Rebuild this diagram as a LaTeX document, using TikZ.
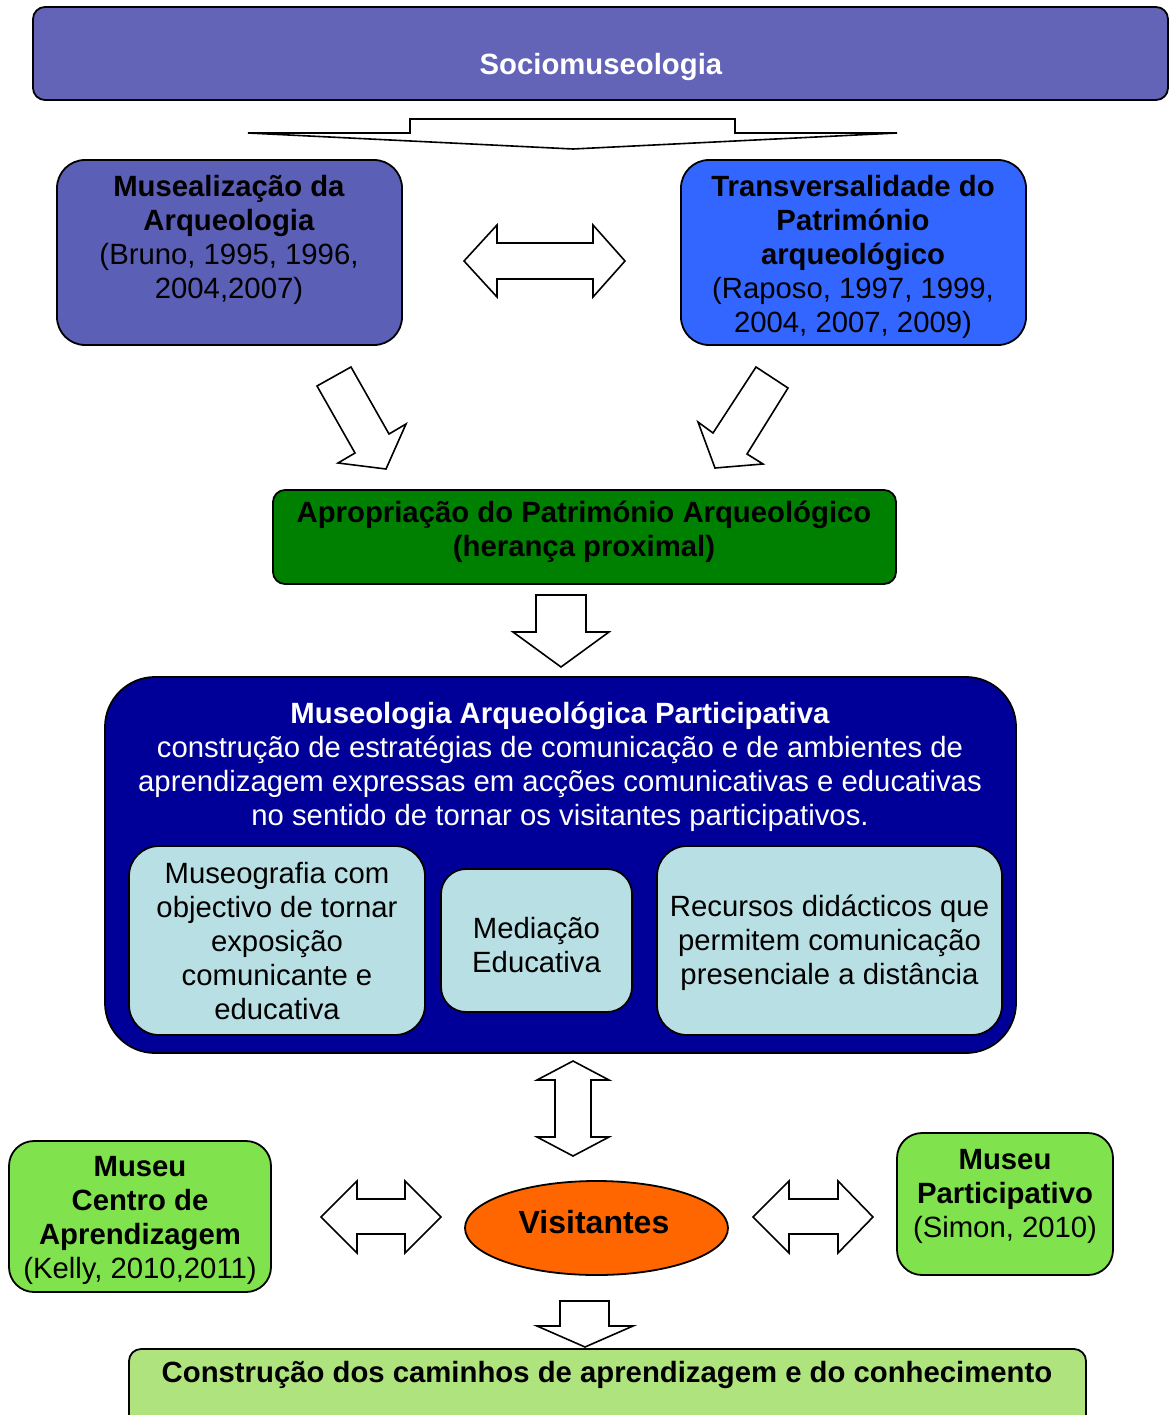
\documentclass[tikz,border=0pt]{standalone}
\usepackage{fontspec}
\setmainfont{Liberation Sans}
\usetikzlibrary{shapes.geometric}

\definecolor{socio}{HTML}{6363B8}
\definecolor{musea}{HTML}{5B5FB5}
\definecolor{transv}{HTML}{3366FF}
\definecolor{aprop}{HTML}{008000}
\definecolor{navybox}{HTML}{000099}
\definecolor{paleblue}{HTML}{B8DFE3}
\definecolor{visit}{HTML}{FF6600}
\definecolor{museugreen}{HTML}{80E24C}
\definecolor{pathgreen}{HTML}{AEE37E}

\begin{document}
\begin{tikzpicture}[x=1pt,y=-1pt,
  box/.style={draw=black, line width=1.8pt, inner sep=0pt},
  txt/.style={align=center, inner sep=0pt, font=\fontsize{29.3}{34}\selectfont},
  blockarrow/.style={draw=black, fill=white, line width=1.6pt, line join=miter}]

\useasboundingbox (0,0) rectangle (1170,1415);
\clip (0,0) rectangle (1170,1415);

% ---- boxes ----
\node[box, fill=socio, rounded corners=12pt, minimum width=1135pt, minimum height=93pt] (socio) at (600.5,53.5) {};
\node[box, fill=musea, rounded corners=28pt, minimum width=345pt, minimum height=185pt] (mus) at (229.5,252.5) {};
\node[box, fill=transv, rounded corners=28pt, minimum width=345pt, minimum height=185pt] (trans) at (853.5,252.5) {};
\node[box, fill=aprop, rounded corners=12pt, minimum width=623pt, minimum height=94pt] (aprop) at (584.5,537) {};
\node[box, fill=navybox, rounded corners=50pt, minimum width=911pt, minimum height=376pt] (big) at (560.5,865) {};
\node[box, fill=paleblue, rounded corners=30pt, minimum width=296pt, minimum height=189pt] (in1) at (277,940.5) {};
\node[box, fill=paleblue, rounded corners=25pt, minimum width=191pt, minimum height=143pt] (in2) at (536.5,940.5) {};
\node[box, fill=paleblue, rounded corners=30pt, minimum width=345pt, minimum height=189pt] (in3) at (829.5,940.5) {};
\node[box, ellipse, fill=visit, minimum width=263pt, minimum height=94pt] (visit) at (596.5,1228) {};
\node[box, fill=museugreen, rounded corners=25pt, minimum width=262pt, minimum height=151pt] (kelly) at (140,1216.5) {};
\node[box, fill=museugreen, rounded corners=25pt, minimum width=216pt, minimum height=142pt] (simon) at (1005,1204) {};
\node[box, fill=pathgreen, rounded corners=12pt, minimum width=957pt, minimum height=91pt] (path) at (607.5,1394.5) {};

% ---- texts ----
\node[txt, text=white] (socioT) at (601,67) {\textbf{Sociomuseologia}};
\node[txt] (musT) at (229,240) {\textbf{Musealização da}\\\textbf{Arqueologia}\\(Bruno, 1995, 1996,\\2004,2007)};
\node[txt] (transT) at (853,257) {\textbf{Transversalidade do}\\\textbf{Património}\\\textbf{arqueológico}\\(Raposo, 1997, 1999,\\2004, 2007, 2009)};
\node[txt] (apropT) at (584,532) {\textbf{Apropriação do Património Arqueológico}\\\textbf{(herança proximal)}};
\node[txt, text=white] (bigT) at (560,767) {\textbf{Museologia Arqueológica Participativa}\\construção de estratégias de comunicação e de ambientes de\\aprendizagem expressas em acções comunicativas e educativas\\no sentido de tornar os visitantes participativos.};
\node[txt] (in1T) at (277,941) {Museografia com\\objectivo de tornar\\exposição\\comunicante e\\educativa};
\node[txt] (in2T) at (536.5,945) {Mediação\\Educativa};
\node[txt] (in3T) at (829.5,943) {Recursos didácticos que\\permitem comunicação\\presenciale a distância};
\node[txt, font=\fontsize{32}{38}\selectfont] (visitT) at (594,1222) {\textbf{Visitantes}};
\node[txt] (kellyT) at (140,1220) {\textbf{Museu}\\\textbf{Centro de}\\\textbf{Aprendizagem}\\(Kelly, 2010,2011)};
\node[txt] (simonT) at (1005,1196) {\textbf{Museu}\\\textbf{Participativo}\\(Simon, 2010)};
\node[txt] (pathT) at (607,1375) {\textbf{Construção dos caminhos de aprendizagem e do conhecimento}};

% ---- block arrows ----
% wide arrow below the top banner
\draw[blockarrow] (248,133) -- (410,133) -- (410,119) -- (735,119) -- (735,133) -- (897,133) -- (573,149) -- cycle;
% two-way arrow between the upper boxes
\draw[blockarrow] (464,261) -- (497,225) -- (497,243) -- (593,243) -- (593,225) -- (625,261) -- (593,297) -- (593,279) -- (497,279) -- (497,297) -- cycle;
% slanted arrows into the green box
\draw[blockarrow] (317,386) -- (351,367) -- (389,434) -- (406,424) -- (386,469) -- (338,463) -- (355,453) -- cycle;
\draw[blockarrow] (756,367) -- (788,388) -- (747,454) -- (763,464) -- (715,468) -- (698,422) -- (713,433) -- cycle;
% down arrow into the navy box
\draw[blockarrow] (536,595) -- (586,595) -- (586,632) -- (609,632) -- (561,667) -- (513,632) -- (536,632) -- cycle;
% vertical two-way arrow to the visitors
\draw[blockarrow] (573,1061) -- (609,1080) -- (591,1080) -- (591,1137) -- (609,1137) -- (573,1156) -- (537,1137) -- (555,1137) -- (555,1080) -- (537,1080) -- cycle;
% side two-way arrows
\draw[blockarrow] (321,1217) -- (357,1181) -- (357,1199) -- (405,1199) -- (405,1181) -- (441,1217) -- (405,1253) -- (405,1234) -- (357,1234) -- (357,1253) -- cycle;
\draw[blockarrow] (753,1217) -- (789,1181) -- (789,1199) -- (838,1199) -- (838,1181) -- (873,1217) -- (838,1253) -- (838,1234) -- (789,1234) -- (789,1253) -- cycle;
% down arrow into the bottom box
\draw[blockarrow] (560,1301) -- (609,1301) -- (609,1326) -- (633,1326) -- (585,1347) -- (537,1326) -- (560,1326) -- cycle;

\end{tikzpicture}
\end{document}
